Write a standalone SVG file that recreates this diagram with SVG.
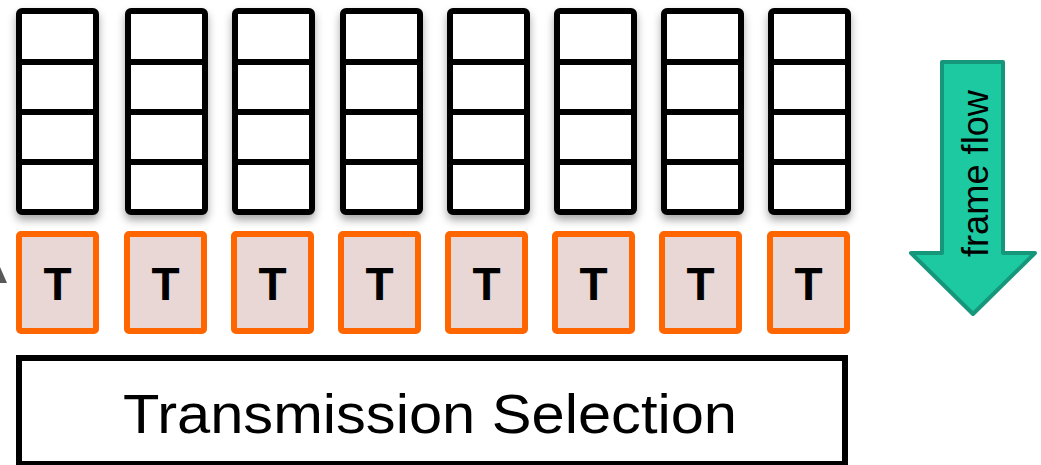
<svg xmlns="http://www.w3.org/2000/svg" width="1041" height="465" viewBox="0 0 1041 465">
<style>
.q{fill:#fff;stroke:#000;stroke-width:6;stroke-linejoin:round}
.qd{stroke:#000;stroke-width:6;fill:none}
.t{fill:#E8D7D4;stroke:#FF6600;stroke-width:6;stroke-linejoin:round}
.tl{font-family:"Liberation Sans",Arial,sans-serif;font-weight:bold;font-size:46px;text-anchor:middle;fill:#000}
</style>
<defs>
<filter id="sh" x="-30%" y="-10%" width="160%" height="130%">
<feDropShadow dx="0" dy="5" stdDeviation="4" flood-color="#000" flood-opacity="0.35"/>
</filter>
<g id="queue-shape">
<rect class="q" x="3" y="11" width="77" height="201" rx="3"/>
<line class="qd" x1="3" y1="62" x2="80" y2="62"/>
<line class="qd" x1="3" y1="112" x2="80" y2="112"/>
<line class="qd" x1="3" y1="162" x2="80" y2="162"/>
</g>
</defs>
<polygon points="-7,283 0,267 7,283" fill="#595959"/>
<g id="queues">
<g id="queue1" filter="url(#sh)"><use href="#queue-shape" x="16"/></g>
<g id="queue2" filter="url(#sh)"><use href="#queue-shape" x="125"/></g>
<g id="queue3" filter="url(#sh)"><use href="#queue-shape" x="232"/></g>
<g id="queue4" filter="url(#sh)"><use href="#queue-shape" x="340"/></g>
<g id="queue5" filter="url(#sh)"><use href="#queue-shape" x="447"/></g>
<g id="queue6" filter="url(#sh)"><use href="#queue-shape" x="554"/></g>
<g id="queue7" filter="url(#sh)"><use href="#queue-shape" x="661"/></g>
<g id="queue8" filter="url(#sh)"><use href="#queue-shape" x="768"/></g>
</g>
<g id="tboxes">
<g id="t1"><rect class="t" x="19" y="234" width="77" height="97" rx="2"/><text class="tl" x="57.5" y="300">T</text></g>
<g id="t2"><rect class="t" x="127" y="234" width="77" height="97" rx="2"/><text class="tl" x="165.5" y="300">T</text></g>
<g id="t3"><rect class="t" x="234" y="234" width="77" height="97" rx="2"/><text class="tl" x="272.5" y="300">T</text></g>
<g id="t4"><rect class="t" x="341" y="234" width="77" height="97" rx="2"/><text class="tl" x="379.5" y="300">T</text></g>
<g id="t5"><rect class="t" x="448" y="234" width="77" height="97" rx="2"/><text class="tl" x="486.5" y="300">T</text></g>
<g id="t6"><rect class="t" x="555" y="234" width="77" height="97" rx="2"/><text class="tl" x="593.5" y="300">T</text></g>
<g id="t7"><rect class="t" x="662" y="234" width="77" height="97" rx="2"/><text class="tl" x="700.5" y="300">T</text></g>
<g id="t8"><rect class="t" x="770" y="234" width="77" height="97" rx="2"/><text class="tl" x="808.5" y="300">T</text></g>
</g>
<g id="transmission-selection">
<rect x="19" y="358" width="826" height="106" fill="#fff" stroke="#000" stroke-width="6"/>
<text x="430" y="433" font-family="'Liberation Sans',Arial,sans-serif" font-size="56" text-anchor="middle" textLength="614" lengthAdjust="spacingAndGlyphs" fill="#000">Transmission Selection</text>
</g>
<g id="frame-flow">
<polygon points="942,62 1003,62 1003,253 1035,253 973,314 911,253 942,253" fill="#1DC9A1" stroke="#16967A" stroke-width="4" stroke-linejoin="round"/>
<text transform="translate(988,173.5) rotate(-90)" x="0" y="0" font-family="'Liberation Sans',Arial,sans-serif" font-size="37" text-anchor="middle" textLength="167" lengthAdjust="spacingAndGlyphs" fill="#000">frame flow</text>
</g>
<g id="connectors"/>
</svg>
